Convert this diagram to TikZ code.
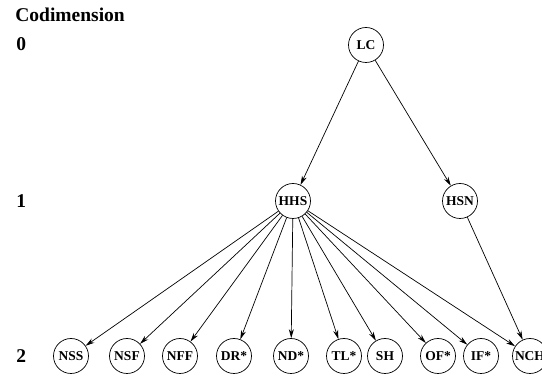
\documentclass[tikz,border=0pt]{standalone}
\usepackage{fontspec}
\setmainfont{Liberation Serif}
\usetikzlibrary{arrows.meta}

\begin{document}
\begin{tikzpicture}
      [x=1pt,y=-1pt,line width=0.7pt,
       every node/.style={circle,draw,minimum size=35pt,inner sep=0pt,
         font=\fontsize{13.5}{13.5}\selectfont\bfseries},
       codim/.style={draw=none,rectangle,anchor=west,inner sep=0pt,minimum size=0pt,
         font=\fontsize{19.5}{20}\selectfont\bfseries}]
      \useasboundingbox (0,0) rectangle (542,379);
      \node [codim] (cd) at (15,15) {Codimension};
      \node [codim] (c0) at (16,44) {0};
      \node [codim] (c1) at (16,201) {1};
      \node [codim] (c2) at (16,356) {2};

      \node (lc) at (366,45) {LC};
      \node (hhs) at (293,201) {HHS};
      \node (hsn) at (460,201) {HSN};
      \node (nss) at (71,356) {NSS};
      \node (nsf) at (127,356) {NSF};
      \node (nff) at (180,356) {NFF};
      \node (dr) at (234,356) {DR*};
      \node (nd) at (291,356) {ND*};
      \node (tl) at (344,356) {TL*};
      \node (sh) at (385,356) {SH};
      \node (of) at (438,356) {OF*};
      \node (if) at (481,356) {IF*};
      \node (nch) at (530,356) {NCH};

      \foreach \from/\to in {lc/hhs, lc/hsn, hhs/nss, hhs/nsf, hhs/nff, hhs/dr,
          hhs/nd, hhs/tl, hhs/sh, hhs/of, hhs/if, hhs/nch, hsn/nch}
      \draw [-{Stealth[length=9pt,width=5pt]}] (\from) -- (\to);
\end{tikzpicture}
\end{document}
